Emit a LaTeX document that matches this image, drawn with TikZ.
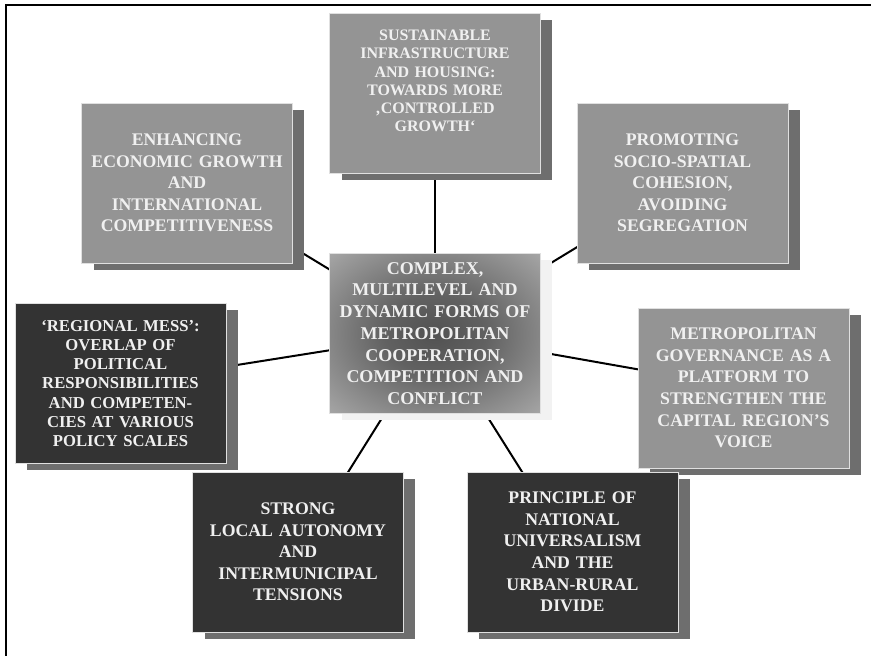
\documentclass[tikz,border=0pt]{standalone}
\usepackage{fontspec}
\setmainfont{Liberation Serif}
\usetikzlibrary{shadows,backgrounds}
\pgfdeclareradialshading{centreglow}{\pgfpoint{0bp}{0bp}}{color(0bp)=(black!68); color(12bp)=(black!62); color(38bp)=(black!32); color(50bp)=(black!27); color(100bp)=(black!27)}

\begin{document}
\begin{tikzpicture}[x=0.75pt,y=-0.75pt,
  box/.style={draw=black!12,line width=0.6pt,text=white!94!black,
    font=\bfseries\fontsize{13.3}{16.2}\selectfont,text width=150pt,
    inner xsep=4.1pt,inner ysep=0pt,minimum height=120pt,align=center},
  greybox/.style={box,fill=black!42,
    drop shadow={shadow xshift=9pt,shadow yshift=-5pt,fill=black!57,opacity=1}},
  darkbox/.style={box,fill=black!80,
    drop shadow={shadow xshift=9pt,shadow yshift=-5pt,fill=black!57,opacity=1}},
  link/.style={line width=1.5pt}]

\useasboundingbox (0,0) rectangle (871,656);
\draw[line width=1.5pt] (871,5) -- (6,5) -- (6,656);

\node[box,shade,shading=centreglow,
  font=\bfseries\fontsize{13.5}{16.3}\selectfont,
  drop shadow={shadow xshift=9pt,shadow yshift=-5pt,fill=black!5,opacity=1}]
  (centre) at (435,333.5) {COMPLEX,\\MULTILEVEL AND\\DYNAMIC FORMS OF\\METROPOLITAN\\COOPERATION,\\COMPETITION AND\\CONFLICT};

\node[greybox,font=\bfseries\fontsize{12}{13.7}\selectfont] (infra) at (435,93)
  {SUSTAINABLE\\INFRASTRUCTURE\\AND HOUSING:\\TOWARDS MORE\\‚CONTROLLED\\GROWTH‘\par\noindent\rule{0pt}{17pt}};
\node[greybox] (econ) at (187,183) {ENHANCING\\ECONOMIC GROWTH\\AND\\INTERNATIONAL\\COMPETITIVENESS};
\node[greybox] (cohesion) at (682.5,183) {PROMOTING\\SOCIO-SPATIAL\\COHESION,\\AVOIDING\\SEGREGATION};
\node[greybox] (voice) at (743.5,388) {METROPOLITAN\\GOVERNANCE AS A\\PLATFORM TO\\STRENGTHEN THE\\CAPITAL REGION’S\\VOICE};

\node[darkbox,font=\bfseries\fontsize{12.5}{14.3}\selectfont] (mess) at (120.5,383.5)
  {‘REGIONAL MESS’:\\OVERLAP OF\\POLITICAL\\RESPONSIBILITIES\\AND COMPETEN-\\CIES AT VARIOUS\\POLICY SCALES};
\node[darkbox] (autonomy) at (298,552) {STRONG\\LOCAL AUTONOMY\\AND\\INTERMUNICIPAL\\TENSIONS};
\node[darkbox] (universal) at (572.5,552) {PRINCIPLE OF\\NATIONAL\\UNIVERSALISM\\AND THE\\URBAN-RURAL\\DIVIDE};

\begin{scope}[on background layer]
\foreach \b in {infra,econ,cohesion,voice,mess,autonomy,universal}{
\draw[link] (centre.center) -- (\b.center);
}
\end{scope}
\end{tikzpicture}
\end{document}
